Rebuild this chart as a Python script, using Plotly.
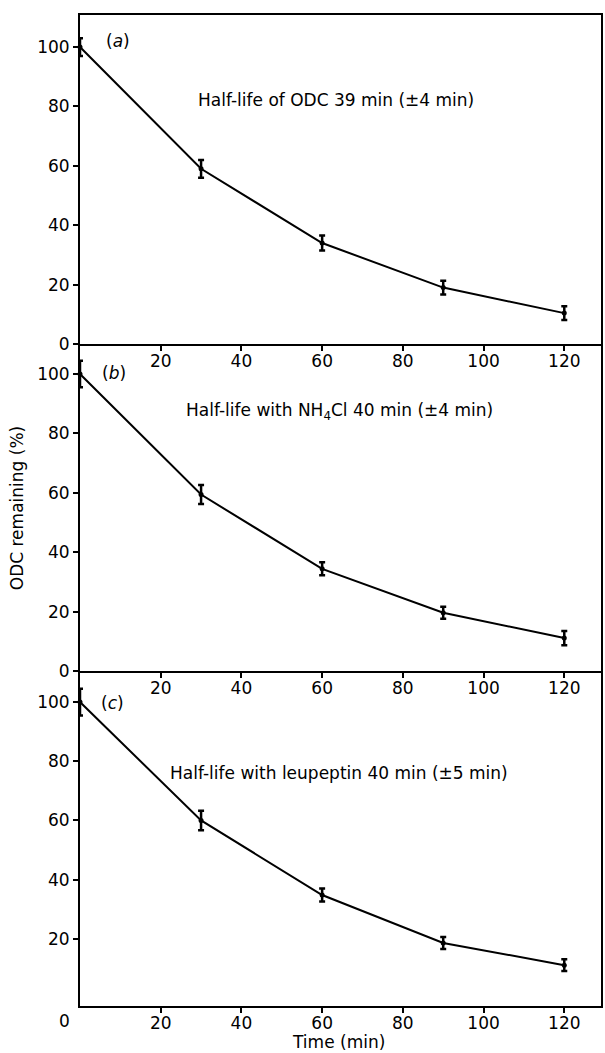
import plotly.graph_objects as go

# ---- data ----
time_min = [0, 30, 60, 90, 120]
odc_a = [100, 59, 34, 19, 10.4]
err_a = [3, 3, 2.5, 2.3, 2.3]
odc_b = [100, 59.4, 34.4, 19.6, 11.1]
err_b = [4.5, 3.2, 2.2, 2.0, 2.4]
odc_c = [100, 60, 34.8, 18.6, 11.1]
err_c = [4.5, 3.3, 2.2, 2.0, 2.0]
panel_labels = ["(<i>a</i>)", "(<i>b</i>)", "(<i>c</i>)"]
panel_texts = [
    "Half-life of ODC 39 min (\u00b14 min)",
    "Half-life with NH<sub>4</sub>Cl 40 min (\u00b14 min)",
    "Half-life with leupeptin 40 min (\u00b15 min)",
]
x_ticks = [20, 40, 60, 80, 100, 120]
y_ticks_ab = [0, 20, 40, 60, 80, 100]
y_ticks_c = [20, 40, 60, 80, 100]

FONT = "DejaVu Sans"
FS = 17
W, H = 605, 1053
# plot area in page pixels
SL, SR, ST, SB = 80, 603, 15, 1006
L, T = SL, ST
R = W - SR
B = H - SB
PW, PH = SR - SL, SB - ST

def py(Y):
    return (SB - Y) / PH

def px(X):
    return (X - SL) / PW

domains = [[py(344), 1.0], [py(671), py(344)], [0.0, py(671)]]
yranges = [[0, 110.8], [0, 110.1], [-2.7, 110.5]]
series = [(odc_a, err_a), (odc_b, err_b), (odc_c, err_c)]

fig = go.Figure()
layout = {}
for i, (vals, errs) in enumerate(series):
    n = i + 1
    xa = "x" if n == 1 else f"x{n}"
    ya = "y" if n == 1 else f"y{n}"
    fig.add_trace(go.Scatter(
        x=time_min, y=vals, xaxis=xa, yaxis=ya, mode="lines+markers",
        line=dict(color="black", width=2),
        marker=dict(color="black", size=5),
        error_y=dict(type="data", array=errs, visible=True, color="black",
                     thickness=2.5, width=3),
        showlegend=False, cliponaxis=False, hoverinfo="skip",
    ))
    xkey = "xaxis" if n == 1 else f"xaxis{n}"
    ykey = "yaxis" if n == 1 else f"yaxis{n}"
    layout[xkey] = dict(
        domain=[0, 1], anchor=ya, range=[0, 129.1],
        tickvals=x_ticks, ticks="outside", ticklen=5, tickwidth=2,
        tickcolor="black", showline=True, linecolor="black", linewidth=2,
        mirror=(n == 1), showgrid=False, zeroline=False,
        showticklabels=True, ticklabelstandoff=-4,
        tickfont=dict(family=FONT, size=FS, color="black"),
    )
    layout[ykey] = dict(
        domain=domains[i], anchor=xa, range=yranges[i],
        tickvals=(y_ticks_c if n == 3 else y_ticks_ab),
        ticks="outside", ticklen=5, tickwidth=2, tickcolor="black",
        showline=True, linecolor="black", linewidth=2, mirror=True,
        showgrid=False, zeroline=False,
        tickfont=dict(family=FONT, size=FS, color="black"),
    )
    # overlay axis to make x ticks cross the axis line
    ox = f"xaxis{n + 3}"
    layout[ox] = dict(
        overlaying=xa, anchor=ya, range=[0, 129.1], tickvals=x_ticks,
        ticks="inside", ticklen=5, tickwidth=2, tickcolor="black",
        showline=False, showgrid=False, zeroline=False, showticklabels=False,
    )

annotations = []
lab_pos = [(118, 41), (114, 373), (113, 703)]
txt_pos = [(337, 100), (340, 412), (340, 773)]
for i in range(3):
    annotations.append(dict(
        text=panel_labels[i], xref="paper", yref="paper",
        x=px(lab_pos[i][0]), y=py(lab_pos[i][1]), xanchor="center",
        yanchor="middle", showarrow=False,
        font=dict(family=FONT, size=FS, color="black")))
    annotations.append(dict(
        text=panel_texts[i], xref="paper", yref="paper",
        x=px(txt_pos[i][0]), y=py(txt_pos[i][1]), xanchor="center",
        yanchor="middle", showarrow=False,
        font=dict(family=FONT, size=FS, color="black")))
annotations.append(dict(
    text="0", xref="paper", yref="paper", x=px(64), y=py(1021),
    xanchor="center", yanchor="middle", showarrow=False,
    font=dict(family=FONT, size=FS, color="black")))
annotations.append(dict(
    text="Time (min)", xref="paper", yref="paper", x=px(339), y=py(1042),
    xanchor="center", yanchor="middle", showarrow=False,
    font=dict(family=FONT, size=FS, color="black")))
annotations.append(dict(
    text="ODC remaining (%)", xref="paper", yref="paper", x=px(17),
    y=py(508), xanchor="center", yanchor="middle", textangle=-90,
    showarrow=False, font=dict(family=FONT, size=FS, color="black")))

fig.update_layout(
    width=W, height=H,
    margin=dict(l=L, r=R, t=T, b=B, pad=0),
    paper_bgcolor="white", plot_bgcolor="white",
    annotations=annotations,
    hovermode=False,
    **layout,
)

fig.write_html(
    "out.html",
    config={"displayModeBar": False, "staticPlot": True},
    post_script="document.body.style.margin='0';document.body.style.overflow='hidden';",
)
